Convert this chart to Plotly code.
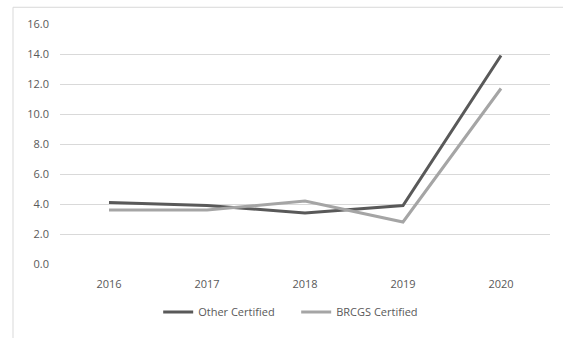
import plotly.graph_objects as go

years = ["2016", "2017", "2018", "2019", "2020"]
other_certified = [4.1, 3.9, 3.4, 3.9, 13.9]
brcgs_certified = [3.6, 3.6, 4.2, 2.8, 11.7]
y_ticks = [0, 2, 4, 6, 8, 10, 12, 14, 16]

W, H = 563, 338
L, R, T, B = 60, 13, 24, 70
pw, ph = W - L - R, H - T - B

fig = go.Figure()
fig.add_trace(go.Scatter(x=years, y=other_certified, mode="lines", name="Other Certified",
                         line=dict(color="#595959", width=3)))
fig.add_trace(go.Scatter(x=years, y=brcgs_certified, mode="lines", name="BRCGS Certified",
                         line=dict(color="#a5a5a5", width=3)))

font = dict(family="Open Sans, Liberation Sans, sans-serif", size=11, color="#595959")

# chart-area frame (only left and top edges fall inside the page)
fig.add_shape(type="line", xref="paper", yref="paper",
              x0=(13 - L) / pw, x1=(13 - L) / pw,
              y0=-(H + 60 - T - ph) / ph, y1=(ph + T - 7) / ph,
              line=dict(color="#d9d9d9", width=1), layer="below")
fig.add_shape(type="line", xref="paper", yref="paper",
              x0=(13 - L) / pw, x1=(W + 60 - L) / pw,
              y0=(ph + T - 7) / ph, y1=(ph + T - 7) / ph,
              line=dict(color="#d9d9d9", width=1), layer="below")

fig.update_layout(
    width=W, height=H,
    margin=dict(l=L, r=R, t=T, b=B),
    paper_bgcolor="white", plot_bgcolor="white",
    font=font,
    showlegend=True,
    legend=dict(orientation="h", x=0.482, xanchor="center", y=-0.2, yanchor="middle",
                font=font, itemwidth=30, entrywidth=93, entrywidthmode="pixels"),
    xaxis=dict(type="category", range=[-0.5, 4.5], showgrid=False, showline=False,
               ticks="", tickfont=font, ticklabelstandoff=12),
    yaxis=dict(range=[0, 16], tickvals=y_ticks, tickformat=".1f", showgrid=True,
               gridcolor="#d9d9d9", gridwidth=1, zeroline=False, showline=False,
               ticks="", tickfont=font, ticklabelstandoff=10),
)

fig.write_html("out.html")
